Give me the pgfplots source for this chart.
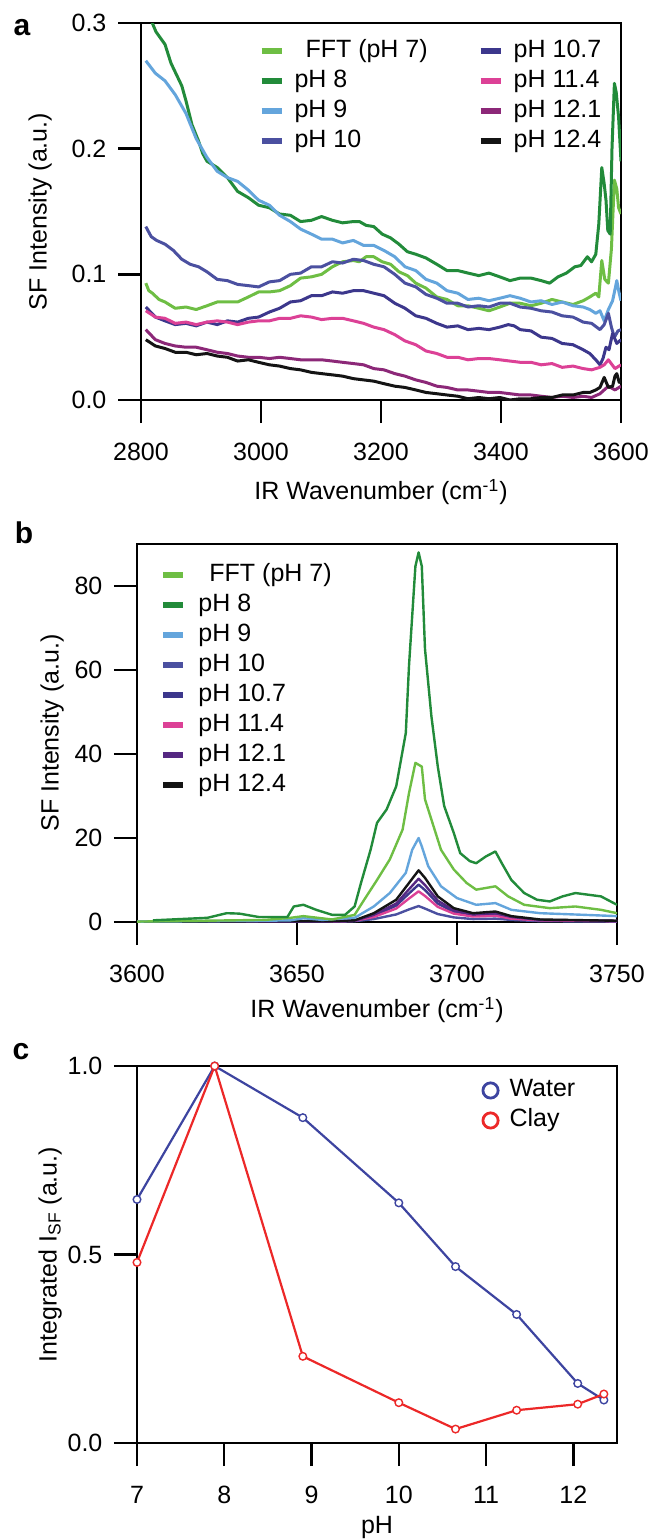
\documentclass[border=0pt]{standalone}
\usepackage{pgfplots}
\pgfplotsset{compat=1.18}
\usepackage{fontspec}
\setmainfont{Liberation Sans}
\definecolor{cfft}{RGB}{110,190,68}
\definecolor{cph8}{RGB}{34,139,58}
\definecolor{cph9}{RGB}{100,165,220}
\definecolor{cph10}{RGB}{75,80,160}
\definecolor{cph107}{RGB}{60,55,140}
\definecolor{cph114}{RGB}{220,65,150}
\definecolor{cph121}{RGB}{140,40,120}
\definecolor{cph121b}{RGB}{85,40,130}
\definecolor{cph124}{RGB}{20,20,20}
\definecolor{cwater}{RGB}{61,68,160}
\definecolor{cclay}{RGB}{236,40,40}
\pgfplotsset{
  myaxis/.style={scale only axis, width=240bp,
    font=\fontsize{12.5bp}{15bp}\selectfont,
    axis line style={line width=1.2bp},
    every tick/.style={draw=black, line width=1.2bp},
    xtick style={draw=black, line width=1.2bp},
    ytick style={draw=black, line width=1.2bp},
    major tick length=11.5bp, tick align=outside,
    xtick pos=bottom, ytick pos=left,
    minor tick num=0,
    /pgf/number format/assume math mode=true,
    /pgf/number format/1000 sep={},
    xticklabel style={yshift=-6.5bp},
    yticklabel style={xshift=-2.3bp},
    legend cell align=left},
}
\begin{document}
\begin{tikzpicture}
\path[use as bounding box] (0,0) rectangle (325.5bp,-770bp);
% ---------------- panel a
\begin{axis}[myaxis, at={(70.5bp,-200bp)}, anchor=south west, height=188.5bp,
  xmin=2800, xmax=3600, ymin=0, ymax=0.3,
  xtick={2800,3000,3200,3400,3600}, ytick={0,0.1,0.2,0.3},
  yticklabel style={/pgf/number format/.cd, fixed, fixed zerofill, precision=1},
  xlabel={IR Wavenumber (cm\textsuperscript{-1})},
  ylabel={SF Intensity (a.u.)},
  xlabel style={at={(axis description cs:0.5,-0.244)}, anchor=center},
  ylabel style={at={(axis description cs:-0.21,0.5)}, anchor=center},
  legend columns=2,
  legend style={at={(axis description cs:0.244,0.958)}, anchor=north west,
    draw=none, fill=none, inner sep=0pt,
    nodes={inner sep=0pt, text height=9bp, text depth=3bp},
    row sep=3bp, column sep=5bp,
    /tikz/every even column/.append style={column sep=25bp}},
  legend image code/.code={\draw[#1, line width=3bp] (0bp,0bp) -- (10bp,0bp);},
  every axis plot/.append style={line width=1.5bp, line join=round},
]
\addplot[cfft, forget plot] coordinates {
(2808,0.093)(2813,0.087)(2819,0.085)(2830,0.080)(2840,0.078)(2857,0.073)(2875,0.074)(2892,0.072)(2910,0.075)(2927,0.078)(2944,0.078)(2961,0.078)(2979,0.082)(2996,0.086)(3014,0.086)(3031,0.087)(3049,0.091)(3066,0.097)(3084,0.098)(3101,0.100)(3119,0.106)(3136,0.110)(3154,0.111)(3164,0.110)(3175,0.114)(3188,0.114)(3202,0.110)(3216,0.108)(3230,0.102)(3244,0.099)(3258,0.093)(3275,0.089)(3293,0.082)(3310,0.080)(3328,0.075)(3345,0.075)(3363,0.073)(3380,0.071)(3398,0.074)(3415,0.077)(3432,0.077)(3450,0.075)(3467,0.077)(3485,0.080)(3502,0.078)(3520,0.076)(3537,0.079)(3548,0.082)(3558,0.085)(3563,0.082)(3568,0.111)(3573,0.096)(3579,0.093)(3584,0.120)(3589,0.175)(3593,0.168)(3596,0.153)(3600,0.148)};
\addplot[cph8, forget plot] coordinates {
(2810,0.310)(2825,0.293)(2840,0.283)(2850,0.268)(2860,0.258)(2868,0.250)(2875,0.238)(2885,0.219)(2896,0.206)(2903,0.196)(2910,0.190)(2927,0.185)(2944,0.177)(2961,0.166)(2979,0.161)(2996,0.155)(3014,0.153)(3031,0.148)(3049,0.147)(3066,0.142)(3084,0.143)(3101,0.146)(3119,0.143)(3136,0.141)(3154,0.142)(3164,0.142)(3175,0.139)(3188,0.138)(3202,0.132)(3216,0.129)(3230,0.124)(3244,0.118)(3258,0.116)(3275,0.113)(3293,0.108)(3310,0.103)(3328,0.103)(3345,0.101)(3363,0.099)(3380,0.101)(3398,0.098)(3415,0.095)(3432,0.097)(3450,0.097)(3467,0.095)(3481,0.093)(3495,0.098)(3509,0.101)(3523,0.106)(3533,0.107)(3544,0.114)(3551,0.110)(3558,0.116)(3563,0.140)(3568,0.185)(3572,0.172)(3575,0.159)(3578,0.135)(3582,0.132)(3585,0.200)(3589,0.252)(3592,0.245)(3596,0.225)(3600,0.190)};
\addplot[cph9, forget plot] coordinates {
(2808,0.270)(2824,0.260)(2840,0.254)(2857,0.243)(2875,0.228)(2892,0.208)(2910,0.193)(2927,0.182)(2944,0.177)(2961,0.174)(2979,0.167)(2996,0.159)(3014,0.155)(3031,0.147)(3049,0.142)(3066,0.136)(3084,0.132)(3101,0.128)(3119,0.128)(3136,0.125)(3154,0.127)(3171,0.123)(3188,0.123)(3205,0.119)(3223,0.114)(3240,0.106)(3258,0.103)(3275,0.096)(3293,0.093)(3310,0.087)(3328,0.085)(3345,0.080)(3363,0.081)(3380,0.079)(3398,0.081)(3415,0.083)(3432,0.081)(3450,0.078)(3467,0.079)(3485,0.076)(3502,0.078)(3520,0.075)(3537,0.074)(3548,0.072)(3558,0.069)(3565,0.071)(3572,0.063)(3579,0.072)(3586,0.079)(3590,0.088)(3593,0.095)(3597,0.085)(3600,0.079)};
\addplot[cph10, forget plot] coordinates {
(2808,0.138)(2817,0.130)(2826,0.127)(2840,0.124)(2854,0.119)(2868,0.112)(2882,0.108)(2896,0.106)(2910,0.102)(2927,0.096)(2944,0.095)(2961,0.092)(2979,0.091)(2996,0.090)(3014,0.094)(3031,0.095)(3049,0.100)(3066,0.101)(3084,0.106)(3101,0.106)(3119,0.110)(3136,0.109)(3154,0.112)(3171,0.111)(3188,0.108)(3205,0.106)(3223,0.100)(3240,0.093)(3258,0.090)(3275,0.084)(3293,0.081)(3310,0.077)(3328,0.077)(3345,0.074)(3363,0.075)(3380,0.074)(3398,0.077)(3415,0.077)(3432,0.074)(3450,0.073)(3467,0.071)(3485,0.070)(3502,0.067)(3520,0.066)(3537,0.062)(3551,0.061)(3565,0.056)(3572,0.060)(3579,0.069)(3584,0.058)(3589,0.050)(3595,0.055)(3600,0.056)};
\addplot[cph107, forget plot] coordinates {
(2808,0.074)(2824,0.066)(2840,0.063)(2857,0.060)(2875,0.061)(2892,0.059)(2910,0.062)(2927,0.060)(2944,0.063)(2961,0.062)(2979,0.065)(2996,0.066)(3014,0.070)(3031,0.073)(3049,0.078)(3066,0.079)(3084,0.083)(3101,0.083)(3119,0.086)(3136,0.085)(3154,0.087)(3171,0.087)(3188,0.085)(3205,0.083)(3223,0.077)(3240,0.073)(3258,0.067)(3275,0.065)(3293,0.061)(3310,0.058)(3328,0.059)(3345,0.056)(3363,0.057)(3380,0.056)(3398,0.058)(3412,0.060)(3422,0.059)(3432,0.056)(3450,0.055)(3467,0.050)(3485,0.049)(3502,0.045)(3520,0.044)(3537,0.040)(3548,0.037)(3558,0.032)(3565,0.028)(3570,0.033)(3575,0.042)(3580,0.040)(3586,0.053)(3593,0.045)(3600,0.048)};
\addplot[cph114, forget plot] coordinates {
(2808,0.071)(2824,0.066)(2840,0.065)(2857,0.061)(2875,0.062)(2892,0.060)(2910,0.062)(2927,0.063)(2944,0.062)(2961,0.060)(2979,0.062)(2996,0.063)(3014,0.063)(3031,0.065)(3049,0.065)(3066,0.067)(3084,0.066)(3101,0.064)(3119,0.065)(3136,0.065)(3154,0.063)(3171,0.061)(3188,0.058)(3205,0.056)(3223,0.052)(3240,0.047)(3258,0.044)(3275,0.039)(3293,0.037)(3310,0.034)(3328,0.034)(3345,0.032)(3363,0.033)(3380,0.033)(3398,0.032)(3415,0.031)(3432,0.030)(3450,0.030)(3467,0.028)(3485,0.029)(3502,0.026)(3520,0.027)(3537,0.025)(3551,0.024)(3565,0.026)(3572,0.028)(3579,0.032)(3590,0.025)(3600,0.028)};
\addplot[cph121, forget plot] coordinates {
(2808,0.056)(2824,0.048)(2840,0.045)(2857,0.043)(2875,0.042)(2892,0.042)(2910,0.040)(2927,0.038)(2944,0.037)(2961,0.035)(2979,0.034)(2996,0.034)(3014,0.033)(3031,0.034)(3049,0.033)(3066,0.032)(3084,0.032)(3101,0.032)(3119,0.031)(3136,0.030)(3154,0.029)(3171,0.028)(3188,0.025)(3205,0.024)(3223,0.021)(3240,0.019)(3258,0.016)(3275,0.014)(3293,0.011)(3310,0.010)(3328,0.008)(3345,0.008)(3363,0.007)(3380,0.006)(3398,0.006)(3415,0.005)(3432,0.004)(3450,0.004)(3467,0.003)(3485,0.002)(3502,0.003)(3520,0.002)(3537,0.003)(3551,0.002)(3565,0.005)(3572,0.008)(3579,0.011)(3590,0.008)(3600,0.011)};
\addplot[cph124, forget plot] coordinates {
(2808,0.048)(2824,0.043)(2840,0.041)(2857,0.038)(2875,0.038)(2892,0.036)(2910,0.037)(2927,0.035)(2944,0.034)(2961,0.031)(2979,0.032)(2996,0.030)(3014,0.028)(3031,0.027)(3049,0.025)(3066,0.024)(3084,0.022)(3101,0.021)(3119,0.020)(3136,0.019)(3154,0.017)(3171,0.016)(3188,0.015)(3205,0.013)(3223,0.011)(3240,0.010)(3258,0.008)(3275,0.006)(3293,0.005)(3310,0.004)(3328,0.003)(3345,0.001)(3363,0.002)(3380,0.001)(3398,0.002)(3415,0.000)(3432,0.001)(3450,0.001)(3467,0.002)(3485,0.002)(3502,0.004)(3520,0.004)(3537,0.006)(3548,0.006)(3558,0.008)(3565,0.010)(3572,0.018)(3579,0.010)(3586,0.011)(3590,0.019)(3593,0.021)(3597,0.014)(3600,0.016)};
\addlegendimage{cfft}\addlegendentry{\hspace{5.5bp}FFT (pH 7)}
\addlegendimage{cph107}\addlegendentry{pH 10.7}
\addlegendimage{cph8}\addlegendentry{pH 8}
\addlegendimage{cph114}\addlegendentry{pH 11.4}
\addlegendimage{cph9}\addlegendentry{pH 9}
\addlegendimage{cph121}\addlegendentry{pH 12.1}
\addlegendimage{cph10}\addlegendentry{pH 10}
\addlegendimage{cph124}\addlegendentry{pH 12.4}
\end{axis}
% ---------------- panel b
\begin{axis}[myaxis, at={(68.5bp,-461bp)}, anchor=south west, height=189bp,
  xmin=3600, xmax=3750, ymin=0, ymax=90,
  xtick={3600,3650,3700,3750}, ytick={0,20,40,60,80},
  xlabel={IR Wavenumber (cm\textsuperscript{-1})},
  ylabel={SF Intensity (a.u.)},
  xlabel style={at={(axis description cs:0.5,-0.233)}, anchor=center},
  ylabel style={at={(axis description cs:-0.177,0.5)}, anchor=center},
  legend style={at={(axis description cs:0.048,0.95)}, anchor=north west,
    draw=none, fill=none, inner sep=0pt,
    nodes={inner sep=0pt, text height=9bp, text depth=3bp},
    row sep=3bp, column sep=6bp},
  legend image code/.code={\draw[#1, line width=3bp] (0bp,0bp) -- (10bp,0bp);},
  every axis plot/.append style={line width=1.2bp, line join=round},
]
\addplot[cph10, forget plot] coordinates {
(3600,0)(3640,0.1)(3660,0.1)(3668,0.2)(3674,0.7)(3681,1.8)(3685,3.0)(3688,3.8)(3690,3.2)
(3694,1.9)(3699,1.1)(3705,0.7)(3712,0.8)(3717,0.5)(3726,0.2)(3750,0.1)};
\addplot[cph107, forget plot] coordinates {
(3600,0)(3640,0.1)(3660,0.1)(3668,0.3)(3674,1.5)(3681,3.9)(3685,6.8)(3688,8.9)(3690,7.6)
(3694,4.4)(3699,2.4)(3705,1.5)(3712,1.8)(3717,1.0)(3726,0.4)(3750,0.2)};
\addplot[cph114, forget plot] coordinates {
(3600,0)(3640,0.1)(3660,0.1)(3668,0.3)(3674,1.2)(3681,3.2)(3685,5.6)(3688,7.3)(3690,6.2)
(3694,3.6)(3699,2.0)(3705,1.3)(3712,1.5)(3717,0.8)(3726,0.4)(3750,0.2)};
\addplot[cph121b, forget plot] coordinates {
(3600,0)(3640,0.1)(3660,0.1)(3668,0.3)(3674,1.7)(3681,4.4)(3685,7.8)(3688,10.3)(3690,8.8)
(3694,5.1)(3699,2.8)(3705,1.8)(3712,2.1)(3717,1.2)(3726,0.5)(3750,0.3)};
\addplot[cph124, forget plot] coordinates {
(3600,0)(3640,0.2)(3660,0.2)(3668,0.4)(3674,2.1)(3681,5.3)(3685,9.3)(3688,12.3)(3690,10.5)
(3694,6.1)(3699,3.3)(3705,2.1)(3712,2.5)(3717,1.4)(3726,0.6)(3750,0.3)};
\addplot[cph9, forget plot] coordinates {
(3600,0.1)(3640,0.3)(3648,0.4)(3652,0.9)(3658,0.5)(3668,1.0)(3674,3.7)(3679,6.9)(3684,11.7)
(3686,17.2)(3688,20.0)(3689,18.0)(3691,13.3)(3695,8.5)(3700,5.7)(3706,4.1)(3712,4.5)
(3717,2.9)(3726,2.1)(3740,1.7)(3750,1.4)};
\addplot[cfft, forget plot] coordinates {
(3600,0.1)(3640,0.5)(3648,1.0)(3652,1.4)(3661,0.6)(3668,1.7)(3671,5.3)(3675,10.0)(3679,14.9)
(3683,22.0)(3685,30.7)(3687,37.9)(3689,37.0)(3690,29.2)(3693,22.0)(3695,17.2)(3699,12.5)
(3703,9.3)(3706,7.7)(3712,8.5)(3716,6.1)(3721,4.1)(3729,3.3)(3737,3.7)(3745,2.9)(3750,2.1)};
\addplot[cph8, forget plot] coordinates {
(3605,0.4)(3622,1.0)(3628,2.1)(3632,2.0)(3638,1.2)(3647,1.2)(3649,3.7)(3652,4.1)(3656,2.9)
(3661,1.7)(3665,1.7)(3668,3.7)(3670,9.3)(3673,17.2)(3675,23.6)(3678,26.8)(3681,32.3)
(3684,45.0)(3685,61.0)(3687,84.7)(3688,88.0)(3689,84.7)(3690,65.0)(3692,49.0)(3694,37.0)
(3696,27.6)(3699,21.2)(3701,16.4)(3704,14.5)(3706,14.0)(3709,15.6)(3712,16.8)(3714,14.0)
(3717,10.0)(3721,6.9)(3725,5.3)(3729,4.9)(3733,6.1)(3737,6.9)(3741,6.5)(3745,6.1)(3750,4.1)};
\addlegendimage{cfft}\addlegendentry{\hspace{5.5bp}FFT (pH 7)}
\addlegendimage{cph8}\addlegendentry{pH 8}
\addlegendimage{cph9}\addlegendentry{pH 9}
\addlegendimage{cph10}\addlegendentry{pH 10}
\addlegendimage{cph107}\addlegendentry{pH 10.7}
\addlegendimage{cph114}\addlegendentry{pH 11.4}
\addlegendimage{cph121b}\addlegendentry{pH 12.1}
\addlegendimage{cph124}\addlegendentry{pH 12.4}
\end{axis}
% ---------------- panel c
\begin{axis}[myaxis, at={(68.5bp,-721.5bp)}, anchor=south west, height=188.5bp,
  xmin=7, xmax=12.5, ymin=0, ymax=1,
  xtick={7,8,9,10,11,12}, ytick={0,0.5,1},
  yticklabel style={/pgf/number format/.cd, fixed, fixed zerofill, precision=1},
  xlabel={pH},
  ylabel={Integrated I\textsubscript{SF} (a.u.)},
  xlabel style={at={(axis description cs:0.5,-0.223)}, anchor=center},
  ylabel style={at={(axis description cs:-0.181,0.5)}, anchor=center},
  legend style={at={(axis description cs:0.717,0.968)}, anchor=north west,
    draw=none, fill=none, inner sep=0pt,
    nodes={inner sep=0pt, text height=9bp, text depth=3bp},
    row sep=3bp, column sep=5bp},
  legend image code/.code={\draw[#1, line width=1.4bp, fill=none] (4bp,0bp) circle (3.8bp);},
  every axis plot/.append style={line width=1.1bp},
  clip=false,
]
\addplot[cwater, mark=*, mark size=1.9bp, mark options={fill=white, line width=0.7bp}] coordinates {
(7,0.646)(7.89,1.0)(8.90,0.863)(10.0,0.637)(10.65,0.468)(11.35,0.341)(12.05,0.158)(12.35,0.114)};
\addlegendentry{Water}
\addplot[cclay, mark=*, mark size=1.9bp, mark options={fill=white, line width=0.7bp}] coordinates {
(7,0.479)(7.89,1.0)(8.90,0.230)(10.0,0.107)(10.65,0.037)(11.35,0.087)(12.05,0.103)(12.35,0.130)};
\addlegendentry{Clay}
\end{axis}
\node[font=\bfseries\fontsize{15bp}{18bp}\selectfont] at (11bp,-14bp) {a};
\node[font=\bfseries\fontsize{15bp}{18bp}\selectfont] at (12bp,-266.5bp) {b};
\node[font=\bfseries\fontsize{15bp}{18bp}\selectfont] at (10.5bp,-526bp) {c};
\end{tikzpicture}
\end{document}
